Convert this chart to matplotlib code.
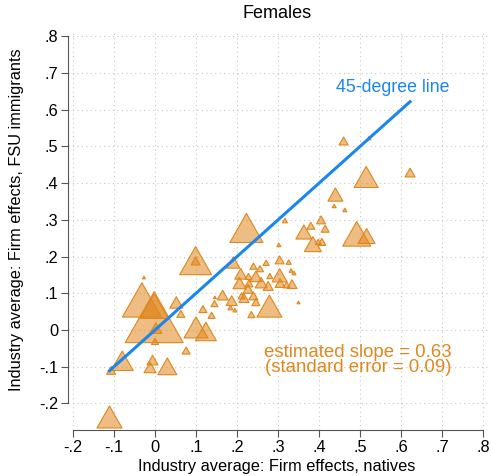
import numpy as np
import matplotlib.pyplot as plt
from matplotlib.path import Path
from matplotlib.colors import to_rgba

plt.rcParams["font.family"] = ["Liberation Sans", "DejaVu Sans"]

# industry averages of firm effects: natives (x) vs FSU immigrants (y), females
natives = [0.223, 0.099, 0.099, -0.027, -0.032, -0.002, -0.002, 0.002, 0.000, 0.052,
           0.063, 0.100, 0.124, 0.076, -0.107, -0.080, -0.006, -0.012, 0.030, -0.111,
           0.460, 0.522, 0.515, 0.440, 0.437, 0.463, 0.492, 0.516, 0.363, 0.405,
           0.380, 0.415, 0.385, 0.407, 0.398, 0.317, 0.302, 0.191, 0.304, 0.326,
           0.240, 0.256, 0.271, 0.304, 0.332, 0.339, 0.209, 0.228, 0.246, 0.259,
           0.280, 0.206, 0.229, 0.276, 0.305, 0.321, 0.334, 0.165, 0.211, 0.217,
           0.227, 0.240, 0.246, 0.187, 0.184, 0.195, 0.146, 0.145, 0.279, 0.235,
           0.117, 0.138, 0.350, 0.622]
immigrants = [0.278, 0.189, 0.188, 0.143, 0.082, 0.065, 0.035, 0.005, -0.031, 0.075,
              0.044, 0.007, -0.004, -0.056, -0.110, -0.084, -0.082, -0.102, -0.099, -0.237,
              0.515, 0.523, 0.417, 0.369, 0.338, 0.327, 0.262, 0.256, 0.267, 0.300,
              0.284, 0.276, 0.234, 0.240, 0.240, 0.298, 0.232, 0.184, 0.191, 0.185,
              0.174, 0.167, 0.183, 0.149, 0.162, 0.155, 0.153, 0.146, 0.146, 0.129,
              0.147, 0.128, 0.127, 0.120, 0.128, 0.123, 0.125, 0.095, 0.093, 0.087,
              0.112, 0.093, 0.076, 0.080, 0.061, 0.054, 0.089, 0.072, 0.065, 0.042,
              0.057, 0.040, 0.075, 0.429]
# industry employment weights (marker area)
weights = [10.9, 10.2, 0.81, 0.09, 15.2, 7.84, 33.6, 1.44, 0.49, 1.69,
           0.64, 5.76, 4.41, 0.64, 0.81, 4.84, 1.21, 1.44, 3.61, 6.25,
           0.81, 0.16, 5.76, 2.25, 0.16, 0.16, 7.84, 2.89, 2.56, 0.81,
           0.64, 0.64, 2.89, 0.64, 0.36, 0.25, 0.16, 1.69, 0.81, 0.25,
           0.49, 0.49, 0.36, 2.25, 0.16, 0.16, 1.44, 0.49, 1.44, 1.44,
           0.36, 1.69, 0.64, 1.00, 1.00, 0.49, 1.00, 1.21, 0.49, 1.00,
           1.00, 0.81, 0.64, 1.21, 0.25, 0.16, 0.09, 0.49, 6.25, 0.49,
           0.64, 0.49, 0.09, 1.00]

slope = 0.63
se = 0.09
ticks = [-0.2, -0.1, 0, 0.1, 0.2, 0.3, 0.4, 0.5, 0.6, 0.7, 0.8]
tick_labels = ["-.2", "-.1", "0", ".1", ".2", ".3", ".4", ".5", ".6", ".7", ".8"]

orange = "#E0871E"
blue = "#1A86F0"

# slightly flattened triangle like Stata's
tri = Path([(0, 0.44), (-0.5, -0.44), (0.5, -0.44), (0, 0.44)],
           [Path.MOVETO, Path.LINETO, Path.LINETO, Path.CLOSEPOLY])

fig = plt.figure(figsize=(4.91, 4.76), dpi=100)
ax = fig.add_axes([68 / 491, 46 / 476, 421 / 491, 400 / 476])

sizes = np.array(weights) * 51.84
ax.scatter(natives, immigrants, s=sizes, marker=tri,
           facecolor=to_rgba(orange, 0.55), edgecolor=orange, linewidth=0.8, zorder=3)

# 45-degree line over the range of the data
x0, x1 = min(natives), max(natives)
ax.plot([x0, x1], [x0, x1], color=blue, linewidth=2.2, zorder=4)
ax.text(0.58, 0.66, "45-degree line", color=blue, fontsize=12.8, ha="center", va="center")

ax.text(0.4955, -0.082, f"estimated slope = {slope:.2f}\n(standard error = {se:.2f})",
        color=orange, fontsize=13.4, ha="center", va="center", linespacing=0.9)

ax.set_xlim(-0.2122, 0.8146)
ax.set_ylim(-0.2725, 0.8174)
ax.set_xticks(ticks)
ax.set_xticklabels(tick_labels)
ax.set_yticks(ticks)
ax.set_yticklabels(tick_labels)
ax.tick_params(labelsize=11.8, length=5, width=0.8, color="#555555", pad=2)

for t in ticks:
    ax.axhline(t, color="#c8c8c8", linestyle=(0, (1, 3)), linewidth=0.8, zorder=1)
    ax.axvline(t, color="#c8c8c8", linestyle=(0, (1, 3)), linewidth=0.8, zorder=1)

for side in ["top", "right"]:
    ax.spines[side].set_visible(False)
ax.spines["left"].set_bounds(-0.2, 0.8)
ax.spines["bottom"].set_bounds(-0.2, 0.8)
ax.spines["left"].set_color("#555555")
ax.spines["bottom"].set_color("#555555")

fig.text(277 / 491, 1 - 466 / 476, "Industry average: Firm effects, natives",
         fontsize=11.8, ha="center", va="center")
fig.text(17 / 491, 1 - 220 / 476, "Industry average: Firm effects, FSU immigrants",
         fontsize=11.8, ha="center", va="center", rotation=90)
fig.text(277 / 491, 1 - 14 / 476, "Females", fontsize=13, ha="center", va="center")

fig.savefig("out.png", dpi=100)
